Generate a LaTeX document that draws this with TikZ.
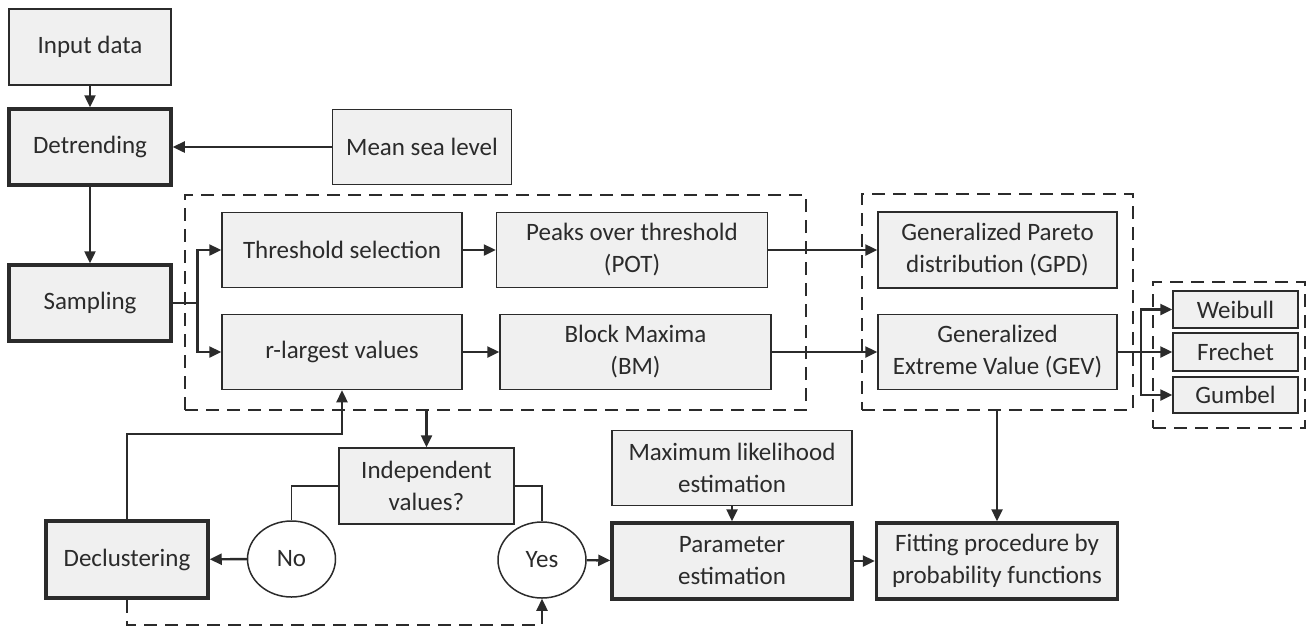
\documentclass[tikz,border=0pt]{standalone}
\usepackage{fontspec}
\setmainfont{Carlito}
\usetikzlibrary{arrows.meta,shapes.geometric}
\definecolor{linec}{HTML}{2B2B2B}
\definecolor{boxfill}{HTML}{F0F0F0}
\tikzset{
    blk/.style={draw=linec,fill=boxfill,line width=1.5pt,align=center,inner sep=0pt,
        text=linec,minimum width=240pt,minimum height=75pt},
    keyblk/.style={blk,line width=3.5pt},
    ans/.style={draw=linec,fill=white,ellipse,line width=1.5pt,inner sep=0pt,
        text=linec,minimum width=88pt,minimum height=76pt},
    grp/.style={draw=linec,line width=1.6pt,dash pattern=on 13pt off 8pt,inner sep=0pt},
    flow/.style={draw=linec,line width=2.4pt,-{Triangle[length=12pt,width=11pt]}},
    wire/.style={draw=linec,line width=2.4pt}
}
\begin{document}
\begin{tikzpicture}[x=1pt,y=-1pt,font=\fontsize{25}{32}\selectfont]
                \useasboundingbox (0,0) rectangle (1308,625);
                \node[grp,minimum width=621pt,minimum height=215pt] (smpgrp) at (495.5,302.5) {};
                \node[grp,minimum width=271pt,minimum height=216pt] (distgrp) at (997.5,302) {};
                \node[grp,minimum width=152pt,minimum height=146pt] (typegrp) at (1229,355) {};
                \node[blk,minimum width=162pt,minimum height=76pt] (input) at (90,47) {Input data};
                \node[keyblk,minimum width=162pt,minimum height=76pt] (detrend) at (90,147) {Detrending};
                \node[blk,minimum width=179pt] (msl) at (422,147) {Mean sea level};
                \node[keyblk,minimum width=162pt,minimum height=76pt] (sampling) at (90,303) {Sampling};
                \node[blk] (thresh) at (342,250) {Threshold selection};
                \node[blk,minimum width=271pt] (pot) at (632,250) {Peaks over threshold\\(POT)};
                \node[blk] (rlarge) at (342,352) {r-largest values};
                \node[blk,minimum width=271pt] (bm) at (635.5,352) {Block Maxima\\(BM)};
                \node[blk,minimum width=239pt,minimum height=76pt] (gpd) at (997.5,250) {Generalized Pareto\\distribution (GPD)};
                \node[blk,minimum width=239pt] (gev) at (997.5,352) {Generalized\\Extreme Value (GEV)};
                \node[blk,minimum width=125pt,minimum height=37pt] (weibull) at (1235.5,309.5) {Weibull};
                \node[blk,minimum width=125pt,minimum height=38pt] (frechet) at (1235.5,352) {Frechet};
                \node[blk,minimum width=125pt,minimum height=36pt] (gumbel) at (1235.5,395) {Gumbel};
                \node[blk,minimum width=175pt,minimum height=76pt] (indep) at (426.5,486) {Independent\\values?};
                \node[ans] (no) at (291.5,559) {No};
                \node[ans] (yes) at (542,560) {Yes};
                \node[keyblk,minimum width=162pt,minimum height=77pt] (declust) at (127,559.5) {Declustering};
                \node[blk] (mle) at (732,468) {Maximum likelihood\\estimation};
                \node[keyblk,minimum height=76pt] (param) at (732,561) {Parameter\\estimation};
                \node[keyblk,minimum width=241pt,minimum height=76pt] (fit) at (997,561) {Fitting procedure by\\probability functions};
                \coordinate (split) at (197.5,303);
                \coordinate (gsplit) at (1141,352);
                \draw[flow] (input) -- (detrend);
                \draw[flow] (msl) -- (detrend);
                \draw[flow] (detrend) -- (sampling);
                \draw[wire] (sampling) -- (split);
                \draw[flow] (split) |- (thresh);
                \draw[flow] (split) |- (rlarge);
                \draw[flow] (thresh) -- (pot);
                \draw[flow] (rlarge) -- (bm);
                \draw[flow] (pot) -- (gpd);
                \draw[flow] (bm) -- (gev);
                \draw[flow] (gev) -- (frechet);
                \draw[flow] (gsplit) |- (weibull);
                \draw[flow] (gsplit) |- (gumbel);
                \draw[flow] (indep.north |- smpgrp.south) -- (indep);
                \draw[wire,line width=1.8pt] (indep.west) -| (no.north);
                \draw[wire,line width=1.8pt] (indep.east) -| (yes.north);
                \draw[flow] (no) -- (declust);
                \draw[flow] (declust.north) -- ++(0,-85) -| (rlarge.south);
                \draw[flow,dash pattern=on 13pt off 8pt] (declust.south) -- ++(0,25) -| (yes.south);
                \draw[flow] (yes) -- (param);
                \draw[flow] (mle) -- (param);
                \draw[flow] (param) -- (fit);
                \draw[flow] (fit.north |- distgrp.south) -- (fit);
            \end{tikzpicture}
\end{document}
